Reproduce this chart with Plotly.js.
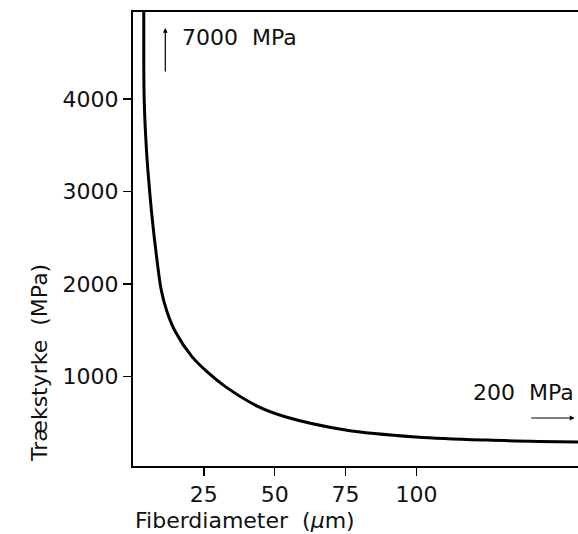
<!DOCTYPE html>
<html>
<head>
<meta charset="utf-8">
<script src="https://cdn.plot.ly/plotly-3.0.1.min.js"></script>
<style>html,body{margin:0;padding:0;background:#fff;}#chart{width:578px;height:534px;}</style>
</head>
<body>
<div id="chart"></div>
<script>
// Fibre diameter (µm) and tensile strength (MPa)
const diameter = [3.7, 3.8, 3.94, 4.75, 5.6, 6.8, 8.5, 10, 12, 15, 20.8, 26.6, 32.6, 44.2, 53.7, 75, 100, 125, 157];
const strength = [7000, 4940, 4000, 3450, 3100, 2700, 2250, 1930, 1700, 1480, 1214, 1038, 890, 674, 565, 422, 346, 312, 292];
const xTicks = [25, 50, 75, 100];
const yTicks = [1000, 2000, 3000, 4000];

const font = {family: 'DejaVu Sans', size: 22, color: '#111'};

const trace = {
  x: diameter, y: strength, type: 'scatter', mode: 'lines',
  line: {color: '#000', width: 3, shape: 'spline', smoothing: 1},
  hoverinfo: 'skip', cliponaxis: true
};

const layout = {
  width: 578, height: 534,
  margin: {l: 133, r: 0, t: 12, b: 68},
  paper_bgcolor: '#fff', plot_bgcolor: '#fff',
  showlegend: false,
  font: font,
  xaxis: {
    range: [0, 157], tickvals: xTicks, ticktext: xTicks.map(String),
    ticks: 'outside', ticklen: 8, tickwidth: 1.5, tickcolor: '#000',
    showline: true, linecolor: '#000', linewidth: 2, mirror: true,
    showgrid: false, zeroline: false, tickfont: font
  },
  yaxis: {
    range: [32, 4940], tickvals: yTicks, ticktext: yTicks.map(String),
    ticks: 'outside', ticklen: 8, tickwidth: 1.5, tickcolor: '#000',
    showline: true, linecolor: '#000', linewidth: 2, mirror: false,
    showgrid: false, zeroline: false, tickfont: font
  },
  annotations: [
    {xref: 'paper', yref: 'paper', x: 0, y: -0.121, xanchor: 'left', yanchor: 'middle',
     text: 'Fiberdiameter  (<i>μ</i>m)', showarrow: false, font: font},
    {xref: 'paper', yref: 'paper', x: -0.209, y: 0.227, xanchor: 'center', yanchor: 'middle',
     text: 'Trækstyrke  (MPa)', textangle: -90, showarrow: false, font: font},
    {xref: 'x', yref: 'y', x: 16.7, y: 4660, xanchor: 'left', yanchor: 'middle',
     text: '7000  MPa', showarrow: false, font: font},
    {xref: 'paper', yref: 'y', x: 0.996, y: 822, xanchor: 'right', yanchor: 'middle',
     text: '200  MPa', showarrow: false, font: font},
    {xref: 'x', yref: 'y', axref: 'x', ayref: 'y', x: 11.4, y: 4768, ax: 11.4, ay: 4281,
     text: '', showarrow: true, arrowhead: 2, arrowsize: 0.8, arrowwidth: 1.2, arrowcolor: '#000'},
    {xref: 'x', yref: 'y', axref: 'x', ayref: 'y', x: 155.8, y: 551, ax: 140, ay: 551,
     text: '', showarrow: true, arrowhead: 2, arrowsize: 0.8, arrowwidth: 1.2, arrowcolor: '#000'}
  ]
};

Plotly.newPlot('chart', [trace], layout, {displayModeBar: false, staticPlot: true});
</script>
</body>
</html>
